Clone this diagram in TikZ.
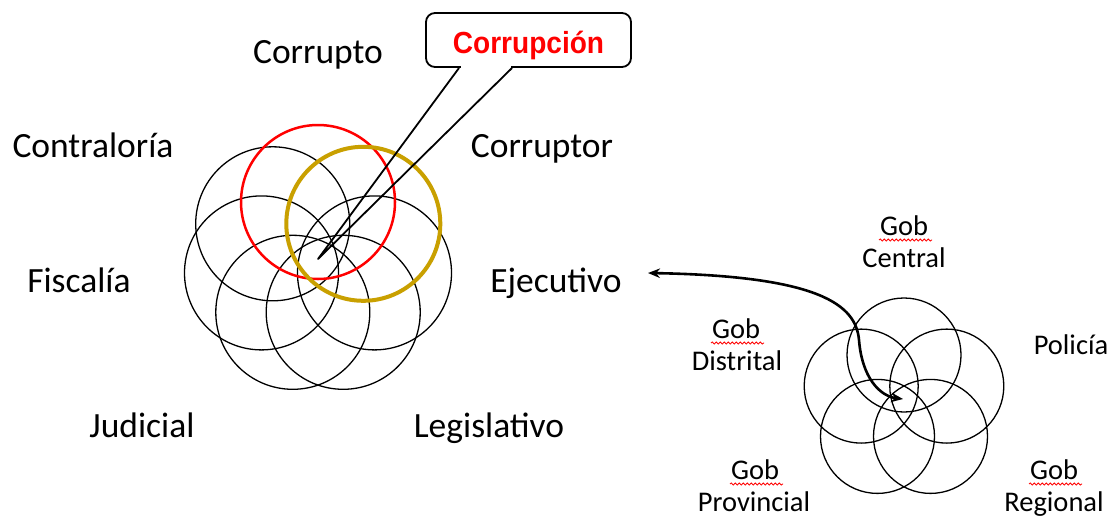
\documentclass[tikz,border=0pt]{standalone}
\usepackage{fontspec}
\usepackage{graphicx}
\setmainfont{Carlito}
\newfontfamily\calloutfont{Liberation Sans}
\usetikzlibrary{arrows.meta,decorations.pathmorphing,calc}
\definecolor{goldc}{RGB}{201,160,0}
\begin{document}
\begin{tikzpicture}[x=1pt,y=-1pt,
  bigc/.style={circle,draw,inner sep=0pt,minimum size=154pt,line width=1.3pt},
  smallc/.style={circle,draw,inner sep=0pt,minimum size=114pt,line width=1.3pt},
  biglab/.style={anchor=base,inner sep=0pt,font=\fontsize{35.5}{40}\selectfont},
  smalllab/.style={anchor=base,inner sep=0pt,font=\fontsize{28.5}{32}\selectfont},
  squiggle/.style={draw=red,line width=0.8pt,decorate,decoration={snake,amplitude=1.1pt,segment length=4pt}},
  dblarrow/.style={line width=2.6pt,{Stealth[length=12pt,width=9.5pt]}-{Stealth[length=12pt,width=9.5pt]}},
  ]
\useasboundingbox[fill=white] (0,0) rectangle (1110,517);

% left cluster
\node[bigc] (cContra) at (272.7,223.8) {};
\node[bigc] (cFisc)   at (261.5,272.9) {};
\node[bigc] (cJud)    at (292.8,312.3) {};
\node[bigc] (cLeg)    at (343.2,312.3) {};
\node[bigc] (cEje)    at (374.5,272.9) {};
\node[bigc,draw=red,line width=2.5pt] (cCorrupto) at (318,202) {};
\node[bigc,draw=goldc,line width=4pt] (cCorruptor) at (363.3,223.8) {};
\coordinate (tip) at (318,259);

% left labels
\node[biglab] (lCorrupto)  at (318,63)  {Corrupto};
\node[biglab] (lCorruptor) at (542,157) {Corruptor};
\node[biglab] (lContra)    at (93,157)  {Contraloría};
\node[biglab] (lFisc)      at (79,292)  {Fiscalía};
\node[biglab] (lEje)       at (556,292) {Ejecutivo};
\node[biglab] (lJud)       at (142,437) {Judicial};
\node[biglab] (lLeg)       at (489,437) {Legislativo};

% callout
\node[draw,line width=1.8pt,rounded corners=9pt,minimum width=205pt,minimum height=54pt,
      inner sep=0pt,fill=white] (callout) at (528.5,40) {};
\node[anchor=base,inner sep=0pt,text=red] (calloutText) at (528.5,53)
      {\calloutfont\bfseries\fontsize{30.5}{34}\selectfont\scalebox{0.92}[1]{Corrupción}};
\coordinate (pl) at (459,68);
\coordinate (pr) at (512,68);
\fill[white] (460.5,65.5) rectangle (510.5,70.5);
\draw[line width=1.8pt,line join=round] (pl) -- (tip) -- (pr);

% right cluster
\node[smallc] (sCentral) at (904,355) {};
\node[smallc] (sDist)    at (861.2,386.1) {};
\node[smallc] (sPol)     at (946.8,386.1) {};
\node[smallc] (sProv)    at (877.5,436.4) {};
\node[smallc] (sReg)     at (930.5,436.4) {};
\coordinate (rcenter) at (903,399);

% right labels
\node[smalllab] (gCa) at (904,235) {Gob};
\node[smalllab] (gCb) at (904,267) {Central};
\node[smalllab] (gDa) at (736,338) {Gob};
\node[smalllab] (gDb) at (737,370) {Distrital};
\node[smalllab] (gPo) at (1071,354) {Policía};
\node[smalllab] (gPa) at (755,479) {Gob};
\node[smalllab] (gPb) at (754,511) {Provincial};
\node[smalllab] (gRa) at (1054,479) {Gob};
\node[smalllab] (gRb) at (1054,511) {Regional};

\foreach \n in {gCa,gDa,gPa,gRa}{
  \draw[squiggle] ($(\n.base)+(-25,5)$) -- ($(\n.base)+(28,5)$);
}

% arrow
\coordinate (ejarrow) at (648,273);
\draw[dblarrow] (ejarrow) .. controls (820,276) and (856,305) .. (859,340)
   .. controls (862,378) and (880,396) .. (rcenter);
\end{tikzpicture}
\end{document}
